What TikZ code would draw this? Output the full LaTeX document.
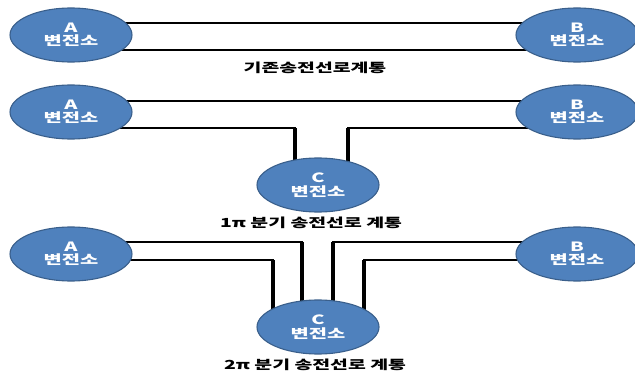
\documentclass[tikz,border=0pt]{standalone}
\usepackage{fontspec}
\setmainfont{Noto Sans CJK KR}[FakeStretch=1.55]
\usetikzlibrary{shapes.geometric,backgrounds}
\definecolor{subfill}{HTML}{4F81BD}
\definecolor{subedge}{HTML}{3A5F8B}
\tikzset{
  station/.style={ellipse, fill=subfill, draw=subedge, line width=1.1pt,
    minimum width=122pt, minimum height=54pt, inner sep=0pt,
    text=white, font=\fontsize{12.8}{13.5}\selectfont\bfseries, align=center},
  caption/.style={font=\fontsize{12.5}{13}\selectfont\bfseries, text=black},
  hline/.style={line width=1.7pt, black},
  vline/.style={line width=3.2pt, black},
}
\begin{document}
\begin{tikzpicture}[x=1pt,y=-1pt]
\useasboundingbox (0,0) rectangle (635,374);

% existing line: A -- B (shifts are in page units: positive = up)
\node[station] (A1) at (71,35) {A\\변전소};
\node[station] (B1) at (577,35) {B\\변전소};
\node[caption] (L1) at (315,68) {기존송전선로계통};
\begin{scope}[on background layer]
  \draw[hline] ([yshift=12pt]A1.center) -- ([yshift=12pt]B1.center);
  \draw[hline] ([yshift=-15pt]A1.center) -- ([yshift=-15pt]B1.center);
\end{scope}

% single pi branch: one circuit tapped into C
\node[station] (A2) at (71,112) {A\\변전소};
\node[station] (B2) at (577,112) {B\\변전소};
\node[station] (C2) at (318,185) {C\\변전소};
\node[caption] (L2) at (311,223) {1π 분기 송전선로 계통};
\coordinate (a2t) at ([yshift=11pt]A2.center);
\coordinate (b2t) at ([yshift=11pt]B2.center);
\coordinate (a2b) at ([yshift=-16pt]A2.center);
\coordinate (b2b) at ([yshift=-16pt]B2.center);
\coordinate (c2l) at ([xshift=-23pt]C2.center);
\coordinate (c2r) at ([xshift=30pt]C2.center);
\begin{scope}[on background layer]
  \draw[hline] (a2t) -- (b2t);
  \draw[hline] (a2b) -| (c2l);
  \draw[hline] (b2b) -| (c2r);
  \draw[vline] (a2b -| c2l) -- (c2l);
  \draw[vline] (b2b -| c2r) -- (c2r);
\end{scope}

% double pi branch: both circuits tapped into C
\node[station] (A3) at (71,254) {A\\변전소};
\node[station] (B3) at (577,254) {B\\변전소};
\node[station] (C3) at (318,327) {C\\변전소};
\node[caption] (L3) at (315,365) {2π 분기 송전선로 계통};
\coordinate (a3t) at ([yshift=12pt]A3.center);
\coordinate (a3b) at ([yshift=-6pt]A3.center);
\coordinate (b3t) at ([yshift=12pt]B3.center);
\coordinate (b3b) at ([yshift=-6pt]B3.center);
\coordinate (c3i) at ([xshift=-16pt]C3.center);
\coordinate (c3o) at ([xshift=-45pt]C3.center);
\coordinate (c3j) at ([xshift=15pt]C3.center);
\coordinate (c3p) at ([xshift=46pt]C3.center);
\begin{scope}[on background layer]
  \draw[hline] (a3t) -| (c3i);
  \draw[hline] (a3b) -| (c3o);
  \draw[hline] (b3t) -| (c3j);
  \draw[hline] (b3b) -| (c3p);
  \draw[vline] (a3t -| c3i) -- (c3i);
  \draw[vline] (a3b -| c3o) -- (c3o);
  \draw[vline] (b3t -| c3j) -- (c3j);
  \draw[vline] (b3b -| c3p) -- (c3p);
\end{scope}
\end{tikzpicture}
\end{document}
